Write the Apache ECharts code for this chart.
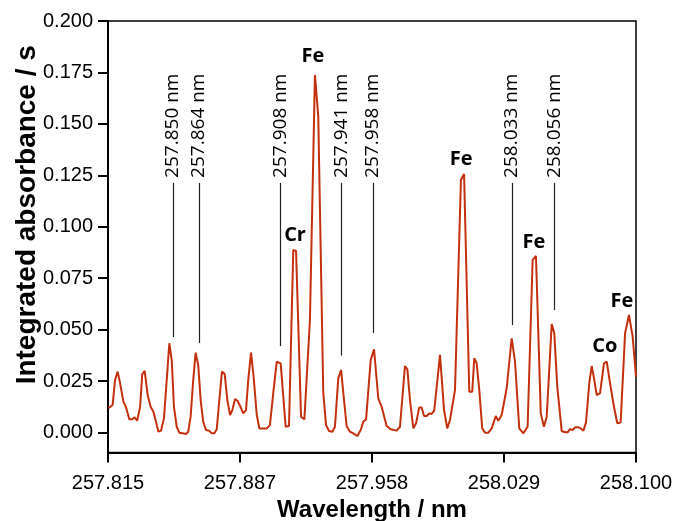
<!DOCTYPE html>
<html>
<head>
<meta charset="utf-8">
<script src="https://cdn.jsdelivr.net/npm/echarts@6/dist/echarts.min.js"></script>
<style>
  html, body { margin: 0; padding: 0; background: #fff; }
  #chart { width: 673px; height: 521px; }
</style>
</head>
<body>
<div id="chart"></div>
<script>
// Spectrum: wavelength (nm) and integrated absorbance (s)
const wavelength = [
  257.8152, 257.8175, 257.8188, 257.8202, 257.8215, 257.8233, 257.8247, 257.8265, 257.8281, 257.8294,
  257.8307, 257.8323, 257.8335, 257.8348, 257.8364, 257.8380, 257.8395, 257.8409, 257.8422, 257.8436,
  257.8452, 257.8467, 257.8481, 257.8494, 257.8506, 257.8521, 257.8535, 257.8553, 257.8571, 257.8583,
  257.8596, 257.8610, 257.8623, 257.8637, 257.8650, 257.8664, 257.8679, 257.8695, 257.8710, 257.8724,
  257.8737, 257.8751, 257.8765, 257.8780, 257.8794, 257.8809, 257.8821, 257.8836, 257.8850, 257.8863,
  257.8880, 257.8895, 257.8907, 257.8922, 257.8936, 257.8953, 257.8967, 257.8985, 257.9007, 257.9024,
  257.9042, 257.9061, 257.9069, 257.9082, 257.9109, 257.9127, 257.9150, 257.9165, 257.9192, 257.9210,
  257.9240, 257.9267, 257.9285, 257.9312, 257.9327, 257.9343, 257.9361, 257.9375, 257.9393, 257.9408,
  257.9424, 257.9438, 257.9456, 257.9474, 257.9496, 257.9514, 257.9528, 257.9543, 257.9568, 257.9586,
  257.9609, 257.9627, 257.9654, 257.9676, 257.9708, 257.9726, 257.9753, 257.9766, 257.9780, 257.9798,
  257.9813, 257.9830, 257.9843, 257.9856, 257.9870, 257.9884, 257.9897, 257.9911, 257.9942, 257.9964,
  257.9981, 257.9996, 258.0023, 258.0055, 258.0072, 258.0100, 258.0116, 258.0127, 258.0140, 258.0154,
  258.0170, 258.0185, 258.0203, 258.0221, 258.0243, 258.0257, 258.0275, 258.0302, 258.0329, 258.0347,
  258.0370, 258.0392, 258.0401, 258.0415, 258.0442, 258.0460, 258.0486, 258.0503, 258.0518, 258.0545,
  258.0559, 258.0575, 258.0599, 258.0617, 258.0631, 258.0644, 258.0658, 258.0671, 258.0689, 258.0702,
  258.0716, 258.0730, 258.0748, 258.0761, 258.0775, 258.0788, 258.0806, 258.0827, 258.0842, 258.0860,
  258.0881, 258.0899, 258.0917, 258.0941, 258.0962, 258.0982, 258.1000
];
const absorbance = [
  0.0118, 0.0134, 0.0255, 0.0296, 0.0241, 0.0150, 0.0124, 0.0064, 0.0064, 0.0074,
  0.0057, 0.0122, 0.0284, 0.0300, 0.0182, 0.0125, 0.0101, 0.0052, 0.0004, 0.0009,
  0.0069, 0.0255, 0.0434, 0.0352, 0.0125, 0.0028, -0.0001, -0.0004, -0.0007, 0.0004,
  0.0077, 0.0255, 0.0388, 0.0328, 0.0158, 0.0052, 0.0012, 0.0009, -0.0004, -0.0004,
  0.0016, 0.0158, 0.0296, 0.0284, 0.0158, 0.0085, 0.0109, 0.0163, 0.0153, 0.0129,
  0.0093, 0.0109, 0.0255, 0.0388, 0.0271, 0.0085, 0.0020, 0.0020, 0.0020, 0.0036,
  0.0191, 0.0344, 0.0348, 0.0336, 0.0028, 0.0032, 0.0887, 0.0882, 0.0077, 0.0064,
  0.0547, 0.1738, 0.1535, 0.0191, 0.0036, 0.0007, 0.0004, 0.0028, 0.0263, 0.0304,
  0.0158, 0.0032, 0.0004, -0.0004, -0.0017, 0.0012, 0.0052, 0.0064, 0.0352, 0.0404,
  0.0166, 0.0125, 0.0032, 0.0016, 0.0009, 0.0028, 0.0323, 0.0307, 0.0158, 0.0020,
  0.0045, 0.0122, 0.0122, 0.0080, 0.0080, 0.0093, 0.0090, 0.0106, 0.0377, 0.0109,
  0.0020, 0.0061, 0.0207, 0.1227, 0.1256, 0.0198, 0.0198, 0.0361, 0.0336, 0.0207,
  0.0020, -0.0001, -0.0001, 0.0020, 0.0080, 0.0057, 0.0085, 0.0215, 0.0458, 0.0344,
  0.0020, -0.0004, -0.0007, 0.0028, 0.0838, 0.0858, 0.0093, 0.0028, 0.0077, 0.0527,
  0.0482, 0.0223, 0.0007, 0.0001, 0.0001, 0.0016, 0.0012, 0.0025, 0.0025, 0.0020,
  0.0009, 0.0048, 0.0242, 0.0323, 0.0255, 0.0182, 0.0191, 0.0336, 0.0344, 0.0239,
  0.0125, 0.0045, 0.0048, 0.0482, 0.0571, 0.0466, 0.0271
];

// Axis ranges and tick labels
const xMin = 257.815, xMax = 258.100;
const xTickLabels = ['257.815', '257.887', '257.958', '258.029', '258.100'];
const yMin = -0.00972, yMax = 0.200;
const yTicks = [0, 0.025, 0.05, 0.075, 0.1, 0.125, 0.15, 0.175, 0.2];

// Identified emission lines (nm) and the absorbance span of each marker
const lineWavelengths = [257.850, 257.864, 257.908, 257.941, 257.958, 258.033, 258.056];
const lineLowerEnds = [0.0464, 0.0435, 0.0420, 0.0374, 0.0484, 0.0522, 0.0595];
const lineUpperEnd = 0.1213;

// Element assignments and the spectrum point each name sits above
const elementNames = ['Fe', 'Cr', 'Fe', 'Fe', 'Co', 'Fe'];
const elementPeakIndex = [71, 67, 114, 135, 158, 164];
// label nudges in pixels [dx, distance above point]
const elementLabelNudge = [[-2, 9], [-1, 6], [-3, 5], [-2, 4], [-2, 5], [-7, 4]];

const xTickValues = xTickLabels.map((_, i) => xMin + i * (xMax - xMin) / (xTickLabels.length - 1));

const chart = echarts.init(document.getElementById('chart'), null, { renderer: 'canvas' });

const tickFont = { fontFamily: '"Liberation Sans", Arial, sans-serif', fontSize: 20, color: '#000' };
const titleFont = { fontFamily: '"Liberation Sans", Arial, sans-serif', fontWeight: 'bold', color: '#000' };

chart.setOption({
  animation: false,
  backgroundColor: '#fff',
  grid: {
    left: 108, right: 37, top: 21, bottom: 68.5,
    outerBoundsMode: 'none',
    containLabel: false,
    show: true, borderColor: '#000', borderWidth: 1.5, backgroundColor: 'transparent'
  },
  xAxis: {
    type: 'value',
    min: xMin, max: xMax,
    name: 'Wavelength / nm',
    nameLocation: 'middle',
    nameGap: 46,
    nameMoveOverlap: false,
    nameTextStyle: { ...titleFont, fontSize: 24 },
    axisLine: { show: true, onZero: false, lineStyle: { color: '#000', width: 2 } },
    axisTick: { show: true, inside: false, length: 10, customValues: xTickValues, lineStyle: { color: '#000', width: 2 } },
    axisLabel: {
      show: true, margin: 21, customValues: xTickValues,
      formatter: (v) => {
        let best = 0;
        xTickValues.forEach((t, i) => { if (Math.abs(t - v) < Math.abs(xTickValues[best] - v)) best = i; });
        return xTickLabels[best];
      },
      ...tickFont
    },
    splitLine: { show: false }
  },
  yAxis: {
    type: 'value',
    min: yMin, max: yMax,
    name: 'Integrated absorbance / s',
    nameLocation: 'middle',
    nameGap: 67,
    nameRotate: 90,
    nameMoveOverlap: false,
    nameTextStyle: { ...titleFont, fontSize: 28, padding: [0, 0, 0, 44] },
    axisLine: { show: true, onZero: false, lineStyle: { color: '#000', width: 2 } },
    axisTick: { show: true, inside: false, length: 10, customValues: yTicks, lineStyle: { color: '#000', width: 2 } },
    axisLabel: {
      show: true, margin: 15, customValues: yTicks,
      formatter: (v) => v.toFixed(3),
      ...tickFont
    },
    splitLine: { show: false }
  },
  series: [
    {
      name: 'spectrum',
      type: 'line',
      data: wavelength.map((w, i) => [w, absorbance[i]]),
      symbol: 'none',
      smooth: false,
      lineStyle: { color: '#c4300e', width: 2 },
      z: 3,
      markLine: {
        silent: true,
        symbol: ['none', 'none'],
        label: { show: false },
        lineStyle: { color: '#222', width: 1.2, type: 'solid' },
        data: lineWavelengths.map((w, i) => [
          { coord: [w, lineLowerEnds[i]] },
          { coord: [w, lineUpperEnd] }
        ])
      }
    },
    {
      name: 'line labels',
      type: 'scatter',
      silent: true,
      symbolSize: 0,
      itemStyle: { opacity: 1 },
      data: lineWavelengths.map((w) => [w, lineUpperEnd]),
      label: {
        show: true,
        position: 'top',
        distance: 1,
        rotate: 90,
        align: 'left',
        verticalAlign: 'middle',
        offset: [4, 0],
        formatter: (p) => p.value[0].toFixed(3) + ' nm',
        fontFamily: '"Open Sans", "Noto Sans", sans-serif',
        fontSize: 19,
        color: '#000'
      }
    },
    {
      name: 'elements',
      type: 'scatter',
      silent: true,
      symbolSize: 0,
      itemStyle: { opacity: 1 },
      data: elementPeakIndex.map((idx, i) => ({
        name: elementNames[i],
        value: [wavelength[idx], absorbance[idx]],
        label: { offset: [elementLabelNudge[i][0], 0], distance: elementLabelNudge[i][1] }
      })),
      label: {
        show: true,
        position: 'top',
        formatter: '{b}',
        fontFamily: '"Open Sans", "Noto Sans", sans-serif',
        fontWeight: 'bold',
        fontSize: 20,
        color: '#000'
      }
    }
  ]
});
</script>
</body>
</html>
